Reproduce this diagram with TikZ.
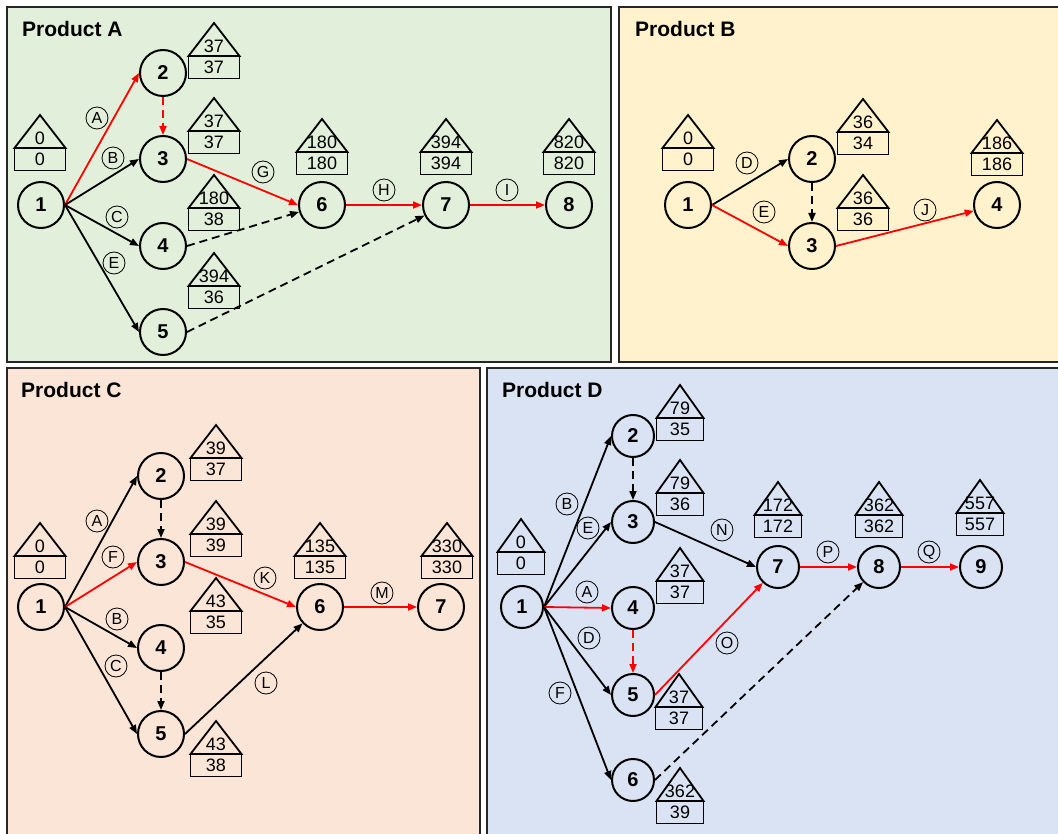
\documentclass[tikz,border=0pt]{standalone}
\usepackage{fontspec}
\setmainfont{Liberation Sans}
\usetikzlibrary{arrows.meta}
\definecolor{bgA}{RGB}{226,239,218}
\definecolor{bgB}{RGB}{255,242,204}
\definecolor{bgC}{RGB}{251,229,214}
\definecolor{bgD}{RGB}{218,227,243}
\definecolor{framecol}{RGB}{38,38,38}
\def\hw{25.5}
\newcommand{\house}[5]{%
  \draw[houseline] (#2-\hw,#3) -- (#2,#3-33) -- (#2+\hw,#3) -- cycle;
  \draw[houseline] (#2-\hw,#3) rectangle (#2+\hw,#3+22.5);
  \node[housetxt] (#1t) at (#2,#3-10) {#4};
  \node[housetxt] (#1b) at (#2,#3+11.5) {#5};
}
\begin{document}
\begin{tikzpicture}[x=1pt,y=-1pt,
  panel/.style={draw=framecol, line width=2pt},
  title/.style={anchor=base west, font=\fontsize{21}{23}\selectfont\bfseries, inner sep=0pt},
  ev/.style={circle, draw, line width=2pt, minimum size=46pt, inner sep=0pt, font=\fontsize{20}{22}\selectfont\bfseries},
  evs/.style={ev, minimum size=42pt},
  houseline/.style={line width=1.8pt},
  housetxt/.style={inner sep=0pt, font=\fontsize{18}{18}\selectfont},
  lab/.style={circle, draw, line width=0.8pt, minimum size=22pt, inner sep=0pt, font=\fontsize{16}{16}\selectfont},
  edge/.style={line width=1.8pt, -{Triangle[length=9pt,width=7pt]}},
  crit/.style={edge, draw=red, color=red},
  dum/.style={edge, dash pattern=on 8pt off 5pt},
  dumc/.style={crit, dash pattern=on 8pt off 5pt}]
\useasboundingbox (0,0) rectangle (1058,834);
\clip (0,0) rectangle (1058,834);
\fill[white] (0,0) rectangle (1058,834);
% panels
\draw[panel, fill=bgA] (7,7) rectangle (611,362);
\draw[panel, fill=bgB] (619,7) rectangle (1064,362);
\draw[panel, fill=bgC] (7,368) rectangle (480,840);
\draw[panel, fill=bgD] (487,368) rectangle (1064,840);
\node[title] (tA) at (22,37) {Product A};
\node[title] (tB) at (635,37) {Product B};
\node[title] (tC) at (21,398) {Product C};
\node[title] (tD) at (502,398) {Product D};

% ---------------- Product A
\node[ev] (A1) at (41,205) {1};
\node[ev] (A2) at (163,73) {2};
\node[ev] (A3) at (163,159) {3};
\node[ev] (A4) at (163,246) {4};
\node[ev] (A5) at (163,332) {5};
\node[ev] (A6) at (322,205) {6};
\node[ev] (A7) at (446,205) {7};
\node[ev] (A8) at (569,205) {8};
\house{hA1}{40}{148}{0}{0}
\house{hA2}{214}{56}{37}{37}
\house{hA3}{214}{131}{37}{37}
\house{hA4}{214}{208}{180}{38}
\house{hA5}{214}{286}{394}{36}
\house{hA6}{322}{152}{180}{180}
\house{hA7}{446}{152}{394}{394}
\house{hA8}{569}{152}{820}{820}
\draw[crit] (A1.east) -- (A2.west);
\draw[edge] (A1.east) -- (A3.west);
\draw[edge] (A1.east) -- (A4.west);
\draw[edge] (A1.east) -- (A5.west);
\draw[dumc] (A2.south) -- (A3.north);
\draw[crit] (A3.east) -- (A6.west);
\draw[dum] (A4.east) -- (A6);
\draw[dum] (A5.east) -- (A7);
\draw[crit] (A6.east) -- (A7.west);
\draw[crit] (A7.east) -- (A8.west);
\node[lab] (lAA) at (97,118) {A};
\node[lab] (lAB) at (113,158) {B};
\node[lab] (lAC) at (117,217) {C};
\node[lab] (lAE) at (114,263) {E};
\node[lab] (lAG) at (263,172) {G};
\node[lab] (lAH) at (384,190) {H};
\node[lab] (lAI) at (507,190) {I};

% ---------------- Product B
\node[ev] (B1) at (688,205) {1};
\node[ev] (B2) at (812,159) {2};
\node[ev] (B3) at (812,246) {3};
\node[ev] (B4) at (997,205) {4};
\house{hB1}{688}{148}{0}{0}
\house{hB2}{863}{132}{36}{34}
\house{hB3}{863}{208}{36}{36}
\house{hB4}{997}{153}{186}{186}
\draw[edge] (B1.east) -- (B2.west);
\draw[crit] (B1.east) -- (B3.west);
\draw[dum] (B2.south) -- (B3.north);
\draw[crit] (B3.east) -- (B4);
\node[lab] (lBD) at (747,163) {D};
\node[lab] (lBE) at (764,212) {E};
\node[lab] (lBJ) at (925,210) {J};

% ---------------- Product C
\node[ev] (C1) at (41,607) {1};
\node[ev] (C2) at (161,476) {2};
\node[ev] (C3) at (161,562) {3};
\node[ev] (C4) at (161,648) {4};
\node[ev] (C5) at (161,734) {5};
\node[ev] (C6) at (320,607) {6};
\node[ev] (C7) at (441,607) {7};
\house{hC1}{40}{556}{0}{0}
\house{hC2}{216}{458}{39}{37}
\house{hC3}{216}{534}{39}{39}
\house{hC4}{216}{611}{43}{35}
\house{hC5}{216}{754}{43}{38}
\house{hC6}{320}{556}{135}{135}
\house{hC7}{447}{556}{330}{330}
\draw[edge] (C1.east) -- (C2.west);
\draw[crit] (C1.east) -- (C3.west);
\draw[edge] (C1.east) -- (C4.west);
\draw[edge] (C1.east) -- (C5.west);
\draw[dum] (C2.south) -- (C3.north);
\draw[dum] (C4.south) -- (C5.north);
\draw[crit] (C3.east) -- (C6.west);
\draw[edge] (C5.east) -- (C6);
\draw[crit] (C6.east) -- (C7.west);
\node[lab] (lCA) at (97,521) {A};
\node[lab] (lCF) at (113,557) {F};
\node[lab] (lCB) at (117,619) {B};
\node[lab] (lCC) at (116,666) {C};
\node[lab] (lCK) at (265,578) {K};
\node[lab] (lCL) at (266,683) {L};
\node[lab] (lCM) at (382,593) {M};

% ---------------- Product D
\def\hw{23.5}
\node[evs] (D1) at (522,607) {1};
\node[evs] (D2) at (633,436) {2};
\node[evs] (D3) at (633,522) {3};
\node[evs] (D4) at (633,608) {4};
\node[evs] (D5) at (633,695) {5};
\node[evs] (D6) at (633,780) {6};
\node[evs] (D7) at (778,567) {7};
\node[evs] (D8) at (879,567) {8};
\node[evs] (D9) at (981,567) {9};
\house{hD1}{521}{552}{0}{0}
\house{hD2}{680}{418}{79}{35}
\house{hD3}{680}{493}{79}{36}
\house{hD4}{680}{581}{37}{37}
\house{hD5}{679}{707}{37}{37}
\house{hD6}{680}{801}{362}{39}
\house{hD7}{778}{515}{172}{172}
\house{hD8}{879}{515}{362}{362}
\house{hD9}{980}{513}{557}{557}
\draw[edge] (D1.east) -- (D2.west);
\draw[edge] (D1.east) -- (D3.west);
\draw[crit] (D1.east) -- (D4.west);
\draw[edge] (D1.east) -- (D5.west);
\draw[edge] (D1.east) -- (D6.west);
\draw[dum] (D2.south) -- (D3.north);
\draw[dumc] (D4.south) -- (D5.north);
\draw[edge] (D3.east) -- (D7.west);
\draw[crit] (D5.east) -- (D7);
\draw[dum] (D6.east) -- (D8);
\draw[crit] (D7.east) -- (D8.west);
\draw[crit] (D8.east) -- (D9.west);
\node[lab] (lDB) at (567,504) {B};
\node[lab] (lDE) at (588,528) {E};
\node[lab] (lDA) at (587,592) {A};
\node[lab] (lDD) at (589,638) {D};
\node[lab] (lDF) at (560,693) {F};
\node[lab] (lDN) at (722,530) {N};
\node[lab] (lDO) at (727,643) {O};
\node[lab] (lDP) at (828,552) {P};
\node[lab] (lDQ) at (929,552) {Q};
\end{tikzpicture}
\end{document}
